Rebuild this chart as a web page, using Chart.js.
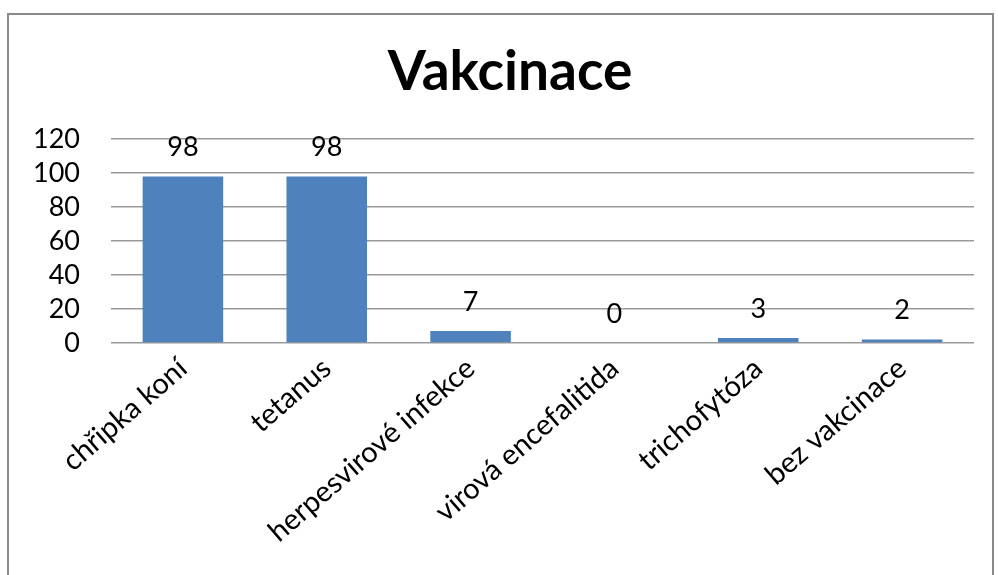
<!DOCTYPE html>
<html>
<head>
<meta charset="utf-8">
<script src="https://cdn.jsdelivr.net/npm/chart.js@4"></script>
<style>
  html,body{margin:0;padding:0;background:#fff;}
  body{width:998px;height:575px;overflow:hidden;position:relative;}
  #frame{position:absolute;left:7px;top:13px;width:987px;height:600px;border:2px solid #8a8a8a;box-sizing:border-box;}
  #wrap{position:absolute;left:0;top:0;width:998px;height:575px;}
</style>
</head>
<body>
<div id="frame"></div>
<div id="wrap"><canvas id="chart" width="998" height="575"></canvas></div>
<script>
const categories = ["chřipka koní","tetanus","herpesvirové infekce","virová encefalitida","trichofytóza","bez vakcinace"];
const values = [98,98,7,0,3,2];
const yTicks = [0,20,40,60,80,100,120];
const chartTitle = "Vakcinace";

const FONT = "Lato, 'Open Sans', sans-serif";

// value labels above bars
const valueLabels = {
  id:"valueLabels",
  afterDatasetsDraw(chart){
    const ctx = chart.ctx;
    const meta = chart.getDatasetMeta(0);
    ctx.save();
    ctx.font = "27px " + FONT;
    ctx.fillStyle = "#000";
    ctx.textAlign = "center";
    ctx.textBaseline = "middle";
    meta.data.forEach((bar,i)=>{
      ctx.fillText(String(values[i]), bar.x, bar.y - 29);
    });
    ctx.restore();
  }
};

// title centred on the framed box (frame starts a bit right of canvas edge)
const boxTitle = {
  id:"boxTitle",
  afterDraw(chart){
    const ctx = chart.ctx;
    ctx.save();
    ctx.font = "bold 55px " + FONT;
    ctx.fillStyle = "#000";
    ctx.textAlign = "center";
    ctx.textBaseline = "middle";
    ctx.fillText(chartTitle, (chart.width + 22) / 2, 72);
    ctx.restore();
  }
};

new Chart(document.getElementById("chart"),{
  type:"bar",
  data:{
    labels:categories,
    datasets:[{
      data:values,
      backgroundColor:"#4F81BD",
      borderWidth:0,
      barPercentage:0.56,
      categoryPercentage:1
    }]
  },
  options:{
    responsive:false,
    animation:false,
    layout:{padding:{left:0,right:24,top:139,bottom:0}},
    plugins:{
      legend:{display:false},
      tooltip:{enabled:false},
      title:{display:false}
    },
    scales:{
      x:{
        grid:{display:false},
        border:{display:false},
        ticks:{
          color:"#000",
          font:{family:FONT,size:29},
          minRotation:41,
          maxRotation:41,
          padding:0,
          autoSkip:false
        },
        afterFit(s){ s.height = 575 - 343; }
      },
      y:{
        min:0,
        max:120,
        afterBuildTicks(s){ s.ticks = yTicks.map(v=>({value:v})); },
        grid:{color:"#9a9a9a",lineWidth:1.5,drawTicks:false},
        border:{display:false},
        ticks:{
          color:"#000",
          font:{family:FONT,size:27},
          padding:31,
          autoSkip:false
        },
        afterFit(s){ s.width = 111; }
      }
    }
  },
  plugins:[valueLabels, boxTitle]
});
</script>
</body>
</html>
